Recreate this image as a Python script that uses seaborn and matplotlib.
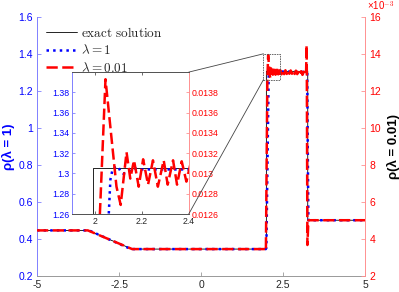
import numpy as np
import matplotlib
matplotlib.use("Agg")
import matplotlib.pyplot as plt
import seaborn as sns
from matplotlib.patches import Rectangle, ConnectionPatch

# ---- data ----
# exact solution (left axis)
exact_x = [-5, -3.45, -2.1, 1.99, 1.99, 3.25, 3.25, 5]
exact_y = [0.445, 0.445, 0.344, 0.344, 1.305, 1.305, 0.5, 0.5]

# lambda = 1 (left axis)
lam1_x = [-5, -3.45, -3.35, -2.2, -2.1, 1.97, 1.99, 2.03, 2.058, 2.065, 2.075,
          2.098, 2.108, 2.119, 2.14, 2.162, 2.2, 2.4, 3.0, 3.235, 3.25, 3.27, 5]
lam1_y = [0.445, 0.445, 0.44, 0.349, 0.344, 0.344, 0.35, 0.9, 1.26, 1.294, 1.305,
          1.307, 1.302, 1.300, 1.301, 1.305, 1.304, 1.304, 1.303, 1.30, 0.9, 0.5, 0.5]

# lambda = 0.01 (right axis, units of 1e-3)
lam001_x = [-5, -3.45, -2.1, 1.96, 1.975, 2.02, 2.044, 2.091, 2.109, 2.134, 2.15,
            2.166, 2.186, 2.205, 2.226, 2.247, 2.268, 2.293, 2.31, 2.333, 2.35,
            2.37, 2.39, 2.41, 2.45, 2.49, 2.53, 2.57, 2.61, 2.65, 2.69, 2.73,
            2.77, 2.81, 2.85, 2.89, 2.93, 2.97, 3.01, 3.05, 3.09, 3.13, 3.17,
            3.20, 3.215, 3.222, 3.24, 3.27, 5]
lam001_y = [4.45, 4.45, 3.44, 3.44, 3.35, 12.6, 13.93, 12.87, 12.69, 13.21, 12.95,
            13.13, 12.87, 13.14, 12.89, 13.13, 12.87, 13.13, 12.89, 13.13, 12.89,
            13.12, 12.92, 13.12, 12.89, 13.12, 12.90, 13.11, 12.91, 13.11, 12.92,
            13.10, 12.92, 13.09, 12.91, 13.09, 12.90, 13.07, 12.89, 13.06, 12.86,
            13.03, 12.84, 12.96, 14.47, 13.0, 3.66, 5.0, 5.0]

x_ticks = [-5, -2.5, 0, 2.5, 5]
x_tick_labels = ["-5", "-2.5", "0", "2.5", "5"]
left_ticks = [0.2, 0.4, 0.6, 0.8, 1.0, 1.2, 1.4, 1.6]
left_tick_labels = ["0.2", "0.4", "0.6", "0.8", "1", "1.2", "1.4", "1.6"]
right_ticks_e3 = [2, 4, 6, 8, 10, 12, 14, 16]

in_x_ticks = [2.0, 2.2, 2.4]
in_x_tick_labels = ["2", "2.2", "2.4"]
in_left_ticks = [1.26, 1.28, 1.30, 1.32, 1.34, 1.36, 1.38]
in_left_labels = ["1.26", "1.28", "1.3", "1.32", "1.34", "1.36", "1.38"]
in_right_ticks = [0.0126, 0.0128, 0.0130, 0.0132, 0.0134, 0.0136, 0.0138]
in_right_labels = ["0.0126", "0.0128", "0.013", "0.0132", "0.0134", "0.0136", "0.0138"]

BLUE = "#0000ff"
RED = "#ff0000"
BLUE_SPINE = "#8080ff"
RED_SPINE = "#ff9090"

sns.set_style("ticks")
plt.rcParams["font.family"] = ["Liberation Sans", "DejaVu Sans"]
plt.rcParams["mathtext.fontset"] = "cm"
plt.rcParams["axes.unicode_minus"] = False

red_vals = np.array(lam001_y) * 1e-3

fig = plt.figure(figsize=(3.99, 2.92), dpi=100)
ax = fig.add_axes([0.0927, 0.0558, 0.8225, 0.8866])
ax2 = ax.twinx()


def draw_lines(a_left, a_right):
    sns.lineplot(x=exact_x, y=exact_y, ax=a_left, color="black", linewidth=0.6,
                 estimator=None, sort=False)
    sns.lineplot(x=lam1_x, y=lam1_y, ax=a_left, color=BLUE, linewidth=1.8,
                 linestyle=":", estimator=None, sort=False)
    sns.lineplot(x=lam001_x, y=red_vals, ax=a_right, color=RED, linewidth=1.8,
                 estimator=None, sort=False)
    a_right.lines[-1].set_dashes((4.5, 1.8))


draw_lines(ax, ax2)

ax.set_xlim(-5, 5)
ax.set_ylim(0.2, 1.6)
ax2.set_ylim(0.002, 0.016)
ax.set_xticks(x_ticks)
ax.set_xticklabels(x_tick_labels)
ax.set_yticks(left_ticks)
ax.set_yticklabels(left_tick_labels)
ax2.set_yticks([v * 1e-3 for v in right_ticks_e3])
ax2.set_yticklabels([str(v) for v in right_ticks_e3])
ax.set_xlabel("")

for a in (ax, ax2):
    a.spines["top"].set_visible(False)
    a.grid(False)
ax.spines["right"].set_visible(False)
ax2.spines["left"].set_visible(False)
ax2.spines["bottom"].set_visible(False)
ax.spines["left"].set_color(BLUE_SPINE)
ax2.spines["right"].set_color(RED_SPINE)
ax.spines["bottom"].set_color("#999999")
for s in ("left", "bottom"):
    ax.spines[s].set_linewidth(0.7)
ax2.spines["right"].set_linewidth(0.7)

ax.tick_params(axis="x", direction="in", length=3, width=0.6, color="#999999",
               labelsize=7.5, labelcolor="#262626", pad=3)
ax.tick_params(axis="y", direction="in", length=3, width=0.6, color=BLUE_SPINE,
               labelsize=7.5, labelcolor=BLUE, pad=3)
ax2.tick_params(axis="y", direction="in", length=3, width=0.6, color=RED_SPINE,
                labelsize=7.5, labelcolor=RED, pad=3)

ax.set_ylabel("ρ(λ = 1)", color=BLUE, fontsize=9.5, fontweight="bold")
ax.yaxis.set_label_coords(-0.066, 0.5)
ax2.set_ylabel("ρ(λ = 0.01)", color="black", fontsize=9.5, fontweight="bold")
ax2.yaxis.set_label_coords(1.068, 0.5)
ax2.text(1.005, 1.015, r"×10$^{-3}$", transform=ax2.transAxes, color=RED,
         fontsize=7, ha="left", va="bottom")

# legend
handles = [ax.lines[0], ax.lines[1], ax2.lines[0]]
labels = [r"$\mathrm{exact\ solution}$", r"$\lambda = 1$", r"$\lambda = 0.01$"]
leg = ax2.legend(handles, labels, loc="upper left", bbox_to_anchor=(0.0, 1.0),
                 frameon=False, fontsize=9.5, handlelength=2.3, handletextpad=0.3,
                 labelspacing=0.25, borderaxespad=0.3)

# zoom box in the main plot
ax2.add_patch(Rectangle((1.9, 0.0126), 0.5, 0.0014, fill=False, edgecolor="#555555",
                        linewidth=0.6, linestyle=(0, (2, 1)), zorder=5))

# inset
ax_in = fig.add_axes([0.180, 0.267, 0.293, 0.486])
ax_in2 = ax_in.twinx()
draw_lines(ax_in, ax_in2)
ax_in.set_xlim(1.9, 2.4)
ax_in.set_ylim(1.26, 1.40)
ax_in2.set_ylim(0.0126, 0.0140)
ax_in.set_xticks(in_x_ticks)
ax_in.set_xticklabels(in_x_tick_labels)
ax_in.set_yticks(in_left_ticks)
ax_in.set_yticklabels(in_left_labels)
ax_in2.set_yticks(in_right_ticks)
ax_in2.set_yticklabels(in_right_labels)
ax_in.set_facecolor("white")
ax_in.set_xlabel("")
for a in (ax_in, ax_in2):
    a.grid(False)
    for s in a.spines.values():
        s.set_linewidth(0.7)
ax_in.spines["right"].set_visible(False)
ax_in2.spines["left"].set_visible(False)
ax_in.spines["left"].set_color(BLUE_SPINE)
ax_in2.spines["right"].set_color(RED_SPINE)
ax_in.spines["top"].set_color("#555555")
ax_in.spines["bottom"].set_color("#555555")
ax_in2.spines["top"].set_color("#555555")
ax_in2.spines["bottom"].set_color("#555555")
ax_in.tick_params(axis="x", direction="in", length=2.5, width=0.6, color="#555555",
                  labelsize=6.3, labelcolor="#262626", pad=2, top=True)
ax_in.tick_params(axis="y", direction="in", length=2.5, width=0.6, color=BLUE_SPINE,
                  labelsize=6.3, labelcolor=BLUE, pad=2)
ax_in2.tick_params(axis="y", direction="in", length=2.5, width=0.6, color=RED_SPINE,
                   labelsize=6.3, labelcolor=RED, pad=2)

# connector lines from inset to zoom box
for ya, yb in ((1, 1.40), (0, 1.26)):
    con = ConnectionPatch(xyA=(1, ya), coordsA=ax_in.transAxes,
                          xyB=(1.9, yb), coordsB=ax.transData,
                          color="#444444", linewidth=0.6)
    fig.add_artist(con)

fig.savefig("out.png", dpi=100)
